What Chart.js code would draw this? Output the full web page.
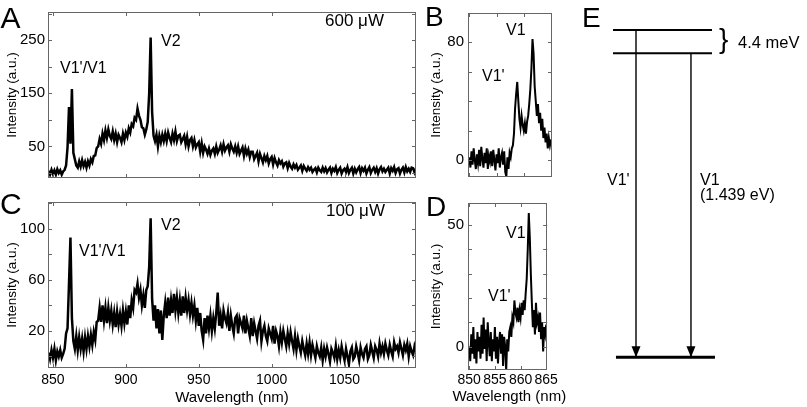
<!DOCTYPE html>
<html><head><meta charset="utf-8">
<script src="https://cdn.jsdelivr.net/npm/chart.js@4/dist/chart.umd.min.js"></script>
<style>
html,body{margin:0;padding:0;background:#fff;}
#wrap{position:relative;width:807px;height:407px;overflow:hidden;font-family:"Liberation Sans",Arial,sans-serif;color:#000;background:#fff;}
canvas{position:absolute;}
.t{position:absolute;white-space:nowrap;line-height:1;}
</style></head><body>
<div id="wrap">
<canvas id="cA" width="420" height="190" style="left:0;top:0"></canvas>
<canvas id="cC" width="420" height="217" style="left:0;top:190px"></canvas>
<canvas id="cB" width="140" height="190" style="left:420px;top:0"></canvas>
<canvas id="cD" width="140" height="217" style="left:420px;top:190px"></canvas>
<canvas id="cE" width="227" height="407" style="left:580px;top:0"></canvas>

<div class="t" style="left:0.5px;top:2.9px;font-size:30px">A</div>
<div class="t" style="left:425px;top:3px;font-size:28px">B</div>
<div class="t" style="left:0px;top:189px;font-size:30px">C</div>
<div class="t" style="left:426px;top:193px;font-size:28px">D</div>
<div class="t" style="left:582px;top:4px;font-size:28px">E</div>

<div class="t" style="left:325px;top:12.3px;font-size:17px">600 μW</div>
<div class="t" style="left:326px;top:202.3px;font-size:17px">100 μW</div>
<div class="t" style="left:60px;top:59.5px;font-size:16px">V1'/V1</div>
<div class="t" style="left:161px;top:33.2px;font-size:16px">V2</div>
<div class="t" style="left:79px;top:243.2px;font-size:16px">V1'/V1</div>
<div class="t" style="left:161px;top:216.5px;font-size:16px">V2</div>
<div class="t" style="left:506px;top:21.5px;font-size:16px">V1</div>
<div class="t" style="left:482px;top:68.2px;font-size:16px">V1'</div>
<div class="t" style="left:506px;top:224.8px;font-size:16px">V1</div>
<div class="t" style="left:488px;top:288.2px;font-size:16px">V1'</div>
<div class="t" style="left:452.5px;top:388px;font-size:15px">Wavelength (nm)</div>

<div class="t" style="left:719px;top:25.4px;font-size:28px">}</div>
<div class="t" style="left:738px;top:34.3px;font-size:16.5px">4.4 meV</div>
<div class="t" style="left:607px;top:171.5px;font-size:16px">V1'</div>
<div class="t" style="left:700px;top:171.5px;font-size:16px">V1</div>
<div class="t" style="left:700px;top:186.5px;font-size:16px">(1.439 eV)</div>
</div>
<script>
// ---------------- DATA ----------------
// Wide spectra (A: 600 µW, C: 100 µW), sampled every 1 nm from 847 nm
const wideStart = 847, wideStep = 1;
const spectrum600 = [
  4,-3,6,-2,5,-3,7,0,5,-3,
  3,6,14,48,124,55,158,38,26,14,
  10,22,12,24,13,21,10,22,14,26,
  20,32,33,47,50,64,55,74,62,80,
  66,82,70,64,78,62,74,58,72,66,
  58,74,62,76,68,84,76,92,88,104,
  100,121,108,100,86,84,72,82,96,150,
  255,115,70,60,72,50,70,58,72,60,
  74,60,76,66,58,74,62,78,60,70,
  72,58,64,70,54,68,50,62,66,50,
  62,48,54,58,40,56,38,50,44,36,
  46,34,42,46,36,50,38,44,52,40,
  54,42,48,52,40,54,46,40,50,38,
  50,36,42,48,32,46,36,44,30,40,
  40,26,32,38,22,36,28,20,32,24,
  32,18,26,30,16,28,20,14,24,18,
  22,12,18,20,9,19,12,8,16,10,
  15,6,10,14,4,13,8,4,11,6,
  10,2,6,9,1,10,5,2,10,3,
  9,1,6,10,0,8,4,11,0,6,
  10,-1,5,8,2,11,0,6,10,-1,
  8,1,7,11,0,9,4,10,-1,6,
  11,0,6,10,2,9,-1,7,11,3,
  8,2,6,10,-1,9,4,11,0,7,
  9,-1,6,10,1,11,3,8,2,10,
  9,1,8
];
const spectrum100 = [
  3,-2,5,-1,6,-3,4,0,5,-1,
  2,6,18,22,57,93,30,12,6,16,
  5,15,6,14,4,15,6,16,8,17,
  9,19,13,27,28,38,27,40,28,38,
  26,38,28,36,25,34,23,35,25,33,
  24,36,26,35,25,40,30,44,38,52,
  50,57,46,52,40,48,38,52,55,70,
  108,45,28,40,22,37,18,36,13,32,
  42,30,46,32,44,34,49,36,46,34,
  44,32,47,34,46,36,44,33,42,32,
  40,28,38,24,34,20,13,30,18,32,
  22,32,20,30,22,34,50,24,32,22,
  36,30,26,34,20,32,24,18,30,32,
  18,30,26,22,32,18,28,22,16,30,
  16,26,20,14,24,28,12,20,24,16,
  12,22,18,14,24,10,20,16,8,19,
  11,20,14,8,18,10,19,12,6,16,
  5,14,8,3,12,6,1,10,2,11,
  1,9,4,-1,8,3,0,7,-3,6,
  0,7,2,-4,6,3,-1,8,-2,5,
  -1,8,2,-3,6,0,-6,4,7,-2,
  0,8,3,-3,7,2,-1,6,8,-2,
  1,9,4,-1,8,5,0,10,3,8,
  2,10,5,1,9,4,0,11,6,8,
  3,11,6,1,9,5,10,0,8,4,
  1,8,4
];
// Zoomed spectra (B: 600 µW, D: 100 µW), sampled every 0.2 nm from 850 nm
const zoomStart = 850, zoomStep = 0.2;
const zoom600 = [
  2,-5,6,-3,8,0,-6,4,-2,7,
  -4,9,1,-5,5,-2,8,-6,3,-1,
  6,-4,7,0,-7,4,-2,8,-5,2,
  5,-3,6,-8,-11,2,-6,5,2,8,
  10,18,35,45,53,40,28,22,30,24,
  20,25,18,26,30,38,48,62,82,72,
  50,40,30,38,25,32,20,28,15,22,
  12,18,8,15,10,14
];
const zoom100 = [
  0,-6,5,-3,8,-5,3,-7,6,-2,
  4,-5,9,-3,12,-1,7,-6,10,2,
  -4,6,-6,3,-2,8,-5,4,-7,2,
  6,-3,5,-8,4,0,-10,3,-2,6,
  8,4,12,10,19,14,12,16,10,15,
  12,18,13,19,15,22,28,40,55,45,
  30,18,8,15,5,18,10,12,6,14,
  3,10,-2,8,5,9
];
// Tick labels
const wideXLabels = [850, 900, 950, 1000, 1050];
const zoomXLabels = [850, 855, 860, 865];
const yLabelsA = [50, 150, 250];
const yLabelsB = [0, 80];
const yLabelsC = [20, 60, 100];
const yLabelsD = [0, 50];
// Energy diagram (E), schematic energy units
const eLevelNames = ["V1'", "V1", "ground"];
const eLevelEnergy = [10.77, 10, 0];
const eLevelFrom = [0, 0, 0.12];
const eLevelTo = [4, 4, 4.12];
const eTransitionNames = ["V1'", "V1"];
const eTransitionPos = [0.93, 3.15];
const eTransitionUpper = [10.77, 10];
const eTransitionLower = [0, 0];

// ---------------- HELPERS ----------------
const FONT = '"Liberation Sans", Arial, sans-serif';
function grid(start, step, n) {
  const out = [];
  for (let i = 0; i < n; i++) out.push(+(start + i * step).toFixed(2));
  return out;
}

const frameTicks = {
  id: 'frameTicks',
  afterDatasetsDraw(chart, args, opts) {
    if (!opts || !opts.xStep) return;
    const {ctx, chartArea: a} = chart;
    const x = chart.scales.x, y = chart.scales.y;
    ctx.save();
    ctx.strokeStyle = opts.color;
    ctx.lineWidth = 1;
    ctx.strokeRect(Math.round(a.left) + 0.5, Math.round(a.top) + 0.5,
      Math.round(a.right) - Math.round(a.left) - 1, Math.round(a.bottom) - Math.round(a.top) - 1);
    const L = opts.len;
    ctx.beginPath();
    for (let v = Math.ceil(x.min / opts.xStep) * opts.xStep; v <= x.max + 1e-9; v += opts.xStep) {
      const px = Math.round(x.getPixelForValue(v)) + 0.5;
      ctx.moveTo(px, a.top); ctx.lineTo(px, a.top + L);
      ctx.moveTo(px, a.bottom); ctx.lineTo(px, a.bottom - L);
    }
    for (let v = Math.ceil(y.min / opts.yStep) * opts.yStep; v <= y.max + 1e-9; v += opts.yStep) {
      const py = Math.round(y.getPixelForValue(v)) + 0.5;
      ctx.moveTo(a.left, py); ctx.lineTo(a.left + L, py);
      ctx.moveTo(a.right, py); ctx.lineTo(a.right - L, py);
    }
    ctx.stroke();
    ctx.restore();
  }
};

function spectrumChart(id, xs, ys, o) {
  return new Chart(document.getElementById(id), {
    type: 'line',
    data: { datasets: [{
      data: xs.map((x, i) => ({x: x, y: ys[i]})),
      borderColor: '#000', borderWidth: o.lw, pointRadius: 0, tension: 0, fill: false
    }]},
    options: {
      responsive: false, animation: false, events: [],
      layout: { padding: { left: 0, top: o.padTop, right: o.padRight, bottom: 0 } },
      plugins: {
        legend: { display: false }, tooltip: { enabled: false },
        frameTicks: { xStep: o.xStep, yStep: o.yStep, color: '#666', len: 4 }
      },
      scales: {
        x: {
          type: 'linear', min: o.xMin, max: o.xMax,
          grid: { display: false, drawTicks: false }, border: { display: false },
          afterFit: s => { s.height = o.xH; },
          afterBuildTicks: s => { s.ticks = o.xLabels.map(v => ({ value: v })); },
          ticks: {
            display: o.xShow, autoSkip: false, maxRotation: 0, minRotation: 0,
            padding: o.xPad, color: '#000', font: { family: FONT, size: 14 },
            callback: v => String(v)
          },
          title: {
            display: o.xTitle, text: 'Wavelength (nm)', color: '#000',
            font: { family: FONT, size: 15 }, padding: { top: 0, bottom: 0.5 }
          }
        },
        y: {
          type: 'linear', min: o.yMin, max: o.yMax,
          grid: { display: false, drawTicks: false }, border: { display: false },
          afterFit: s => { s.width = 48; },
          afterBuildTicks: s => { s.ticks = o.yLabels.map(v => ({ value: v })); },
          ticks: {
            autoSkip: false, padding: o.yPad,
            color: '#000', font: { family: FONT, size: 15 },
            callback: v => String(v)
          },
          title: {
            display: true, text: 'Intensity (a.u.)', color: '#000',
            font: { family: FONT, size: 13.5 }, padding: { top: o.yTitlePad, bottom: 0 }
          }
        }
      }
    },
    plugins: [frameTicks]
  });
}

const wideX = grid(wideStart, wideStep, spectrum600.length);
const zoomX = grid(zoomStart, zoomStep, zoom600.length);

spectrumChart('cA', wideX, spectrum600, {
  lw: 2.5, padTop: 5, padRight: 4, xMin: 846.6, xMax: 1099, xStep: 50, xLabels: wideXLabels, xShow: false, xTitle: false, xH: 10, xPad: 4,
  yMin: -9.5, yMax: 303, yStep: 50, yLabels: yLabelsA, yPad: 3, yTitlePad: 4
});
spectrumChart('cC', wideX, spectrum100, {
  lw: 2.5, padTop: 5, padRight: 4, xMin: 846.6, xMax: 1099, xStep: 50, xLabels: wideXLabels, xShow: true, xTitle: true, xH: 39, xPad: 4,
  yMin: -9, yMax: 120.8, yStep: 20, yLabels: yLabelsC, yPad: 3, yTitlePad: 4
});
spectrumChart('cB', zoomX, zoom600, {
  lw: 2, padTop: 7, padRight: 8, xMin: 849.76, xMax: 865.18, xStep: 5, xLabels: zoomXLabels, xShow: false, xTitle: false, xH: 10, xPad: 2,
  yMin: -11.4, yMax: 99.7, yStep: 20, yLabels: yLabelsB, yPad: 4, yTitlePad: 8
});
spectrumChart('cD', zoomX, zoom100, {
  lw: 2, padTop: 7, padRight: 8, xMin: 849.76, xMax: 865.18, xStep: 5, xLabels: zoomXLabels, xShow: true, xTitle: false, xH: 37, xPad: 2,
  yMin: -9.67, yMax: 59.15, yStep: 10, yLabels: yLabelsD, yPad: 4, yTitlePad: 8
});

// Energy diagram
const arrowHeads = {
  id: 'arrowHeads',
  afterDatasetsDraw(chart) {
    const ctx = chart.ctx;
    chart.data.datasets.forEach((ds, i) => {
      if (!ds.arrowHead) return;
      const pts = chart.getDatasetMeta(i).data;
      const p = pts[pts.length - 1];
      ctx.save();
      ctx.fillStyle = '#000';
      ctx.beginPath();
      ctx.moveTo(p.x, p.y);
      ctx.lineTo(p.x - 4.5, p.y - 11);
      ctx.lineTo(p.x + 4.5, p.y - 11);
      ctx.closePath();
      ctx.fill();
      ctx.restore();
    });
  }
};
const eDatasets = [];
eLevelNames.forEach((n, i) => {
  eDatasets.push({
    label: n,
    data: [{x: eLevelFrom[i], y: eLevelEnergy[i]}, {x: eLevelTo[i], y: eLevelEnergy[i]}],
    borderColor: '#000', borderWidth: n === 'ground' ? 3 : 2, pointRadius: 0, clip: false
  });
});
eTransitionNames.forEach((n, i) => {
  eDatasets.push({
    label: n + ' transition', arrowHead: true,
    data: [{x: eTransitionPos[i], y: eTransitionUpper[i]}, {x: eTransitionPos[i], y: eTransitionLower[i]}],
    borderColor: '#333', borderWidth: 1, pointRadius: 0, clip: false
  });
});
new Chart(document.getElementById('cE'), {
  type: 'line',
  data: { datasets: eDatasets },
  options: {
    responsive: false, animation: false, events: [],
    layout: { padding: 0 },
    plugins: { legend: { display: false }, tooltip: { enabled: false } },
    scales: {
      x: { type: 'linear', display: false, min: -1.333, max: 7.838 },
      y: { type: 'linear', display: false, min: -1.635, max: 11.753 }
    }
  },
  plugins: [arrowHeads]
});
</script>
</body></html>
